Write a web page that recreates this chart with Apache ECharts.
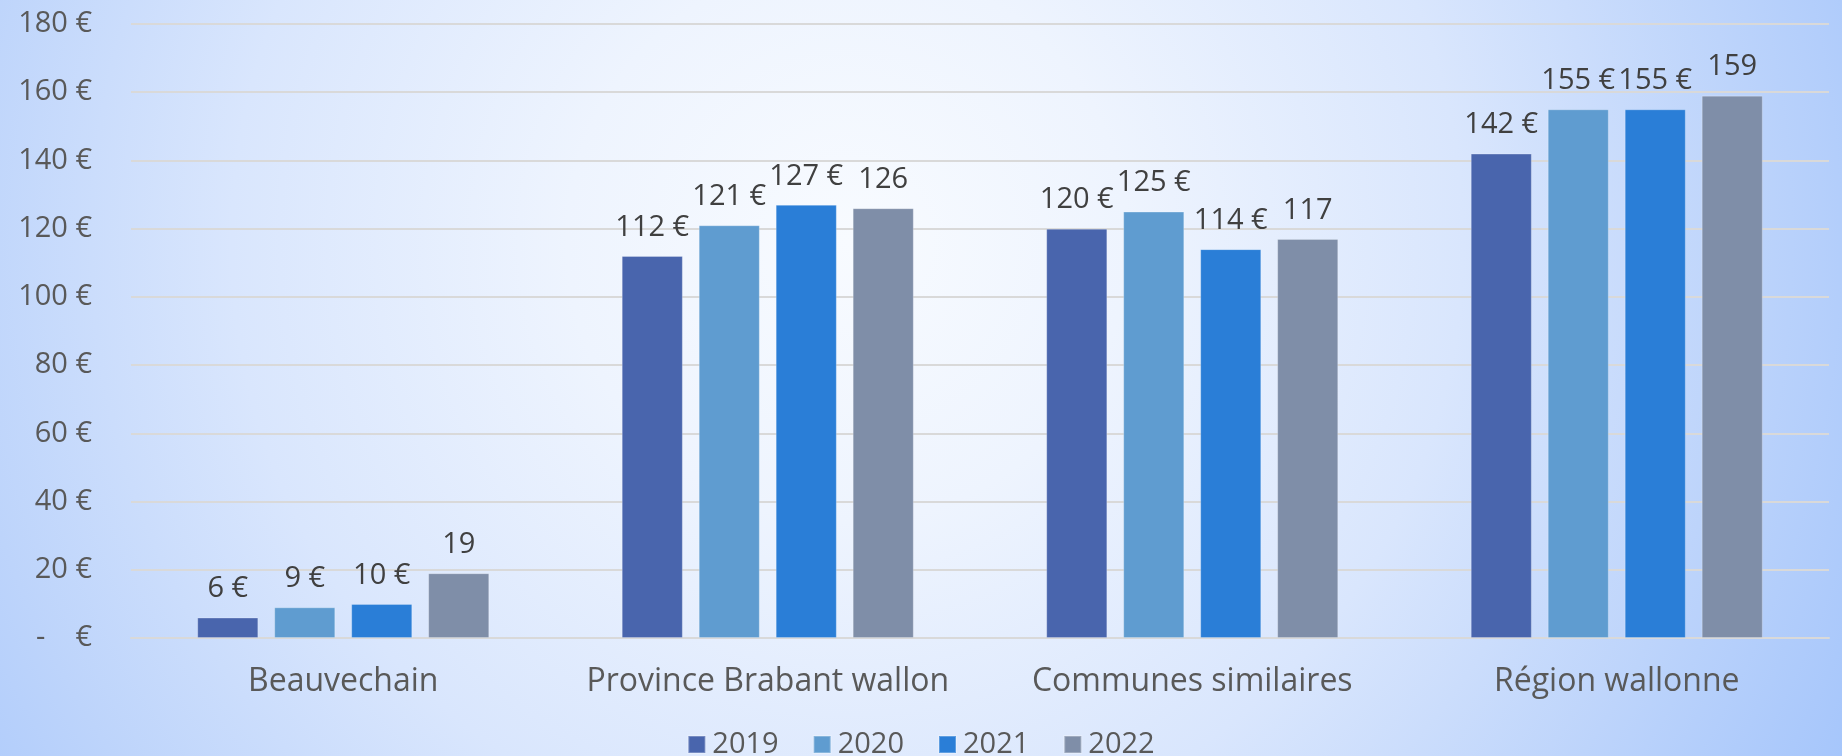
<!DOCTYPE html>
<html>
<head>
<meta charset="utf-8">
<script src="https://cdn.jsdelivr.net/npm/echarts@6/dist/echarts.min.js"></script>
<style>
  html, body { margin: 0; padding: 0; }
  body {
    width: 1842px; height: 756px; overflow: hidden;
    background: radial-gradient(circle farthest-corner at 46% 32%, #f8fbff 0%, #eef4fe 25%, #d9e6fd 55%, #bdd4fb 80%, #a6c6fb 100%);
  }
  #chart { width: 1842px; height: 756px; }
</style>
</head>
<body>
<div id="chart"></div>
<script>
const categories = ['Beauvechain', 'Province Brabant wallon', 'Communes similaires', 'Région wallonne'];
const years = ['2019', '2020', '2021', '2022'];
const values2019 = [6, 112, 120, 142];
const values2020 = [9, 121, 125, 155];
const values2021 = [10, 127, 114, 155];
const values2022 = [19, 126, 117, 159];
const yTicks = { min: 0, max: 180, interval: 20 };

const colors = ['#4965ad', '#5f9cd0', '#2a7ed7', '#7f8ea8'];
const seriesValues = [values2019, values2020, values2021, values2022];
const FONT = '"Open Sans", sans-serif';

const chart = echarts.init(document.getElementById('chart'), null, { renderer: 'canvas' });

const series = years.map((y, i) => ({
  name: y,
  type: 'bar',
  data: seriesValues[i],
  barGap: '26%',
  barCategoryGap: '31.2%',
  itemStyle: { color: colors[i], borderColor: 'rgba(255,255,255,0.25)', borderWidth: 1 },
  label: {
    show: true,
    position: 'top',
    distance: 14,
    color: '#404040',
    fontFamily: FONT,
    fontSize: 29,
    formatter: p => (i === 3 ? String(p.value) : p.value + ' €')
  },
  emphasis: { disabled: true }
}));

chart.setOption({
  backgroundColor: 'transparent',
  animation: false,
  color: colors,
  grid: { left: 131, right: 13, top: 24, bottom: 118, containLabel: false },
  legend: {
    data: years,
    top: 725,
    left: 'center',
    icon: 'rect',
    itemWidth: 17,
    itemHeight: 17,
    itemGap: 34,
    textStyle: { color: '#595959', fontFamily: FONT, fontSize: 29, padding: [0, 0, 0, 2] }
  },
  xAxis: {
    type: 'category',
    data: categories,
    axisLine: { show: true, lineStyle: { color: '#d9d9d9', width: 2 } },
    axisTick: { show: false },
    axisLabel: { color: '#595959', fontFamily: FONT, fontSize: 32, margin: 28, interval: 0 }
  },
  yAxis: {
    type: 'value',
    min: yTicks.min,
    max: yTicks.max,
    interval: yTicks.interval,
    axisLine: { show: false },
    axisTick: { show: false },
    splitLine: { lineStyle: { color: '#d9d9d9', width: 2 } },
    axisLabel: {
      color: '#595959', fontFamily: FONT, fontSize: 29, margin: 39,
      formatter: v => (v === 0 ? '-    €' : v + ' €')
    }
  },
  series: series
});
</script>
</body>
</html>
